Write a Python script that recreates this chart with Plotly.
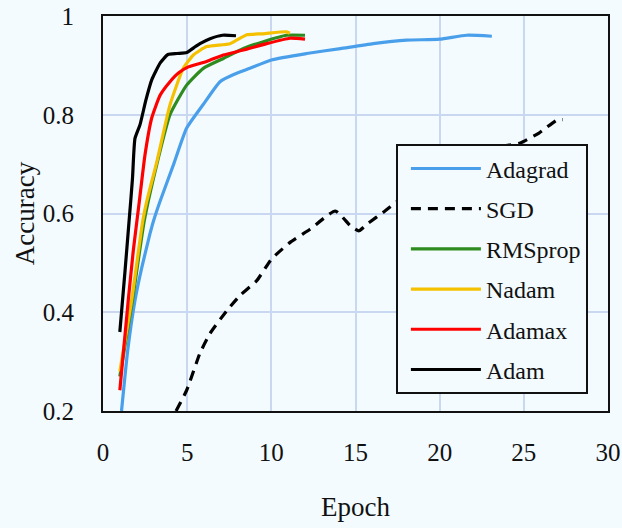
import plotly.graph_objects as go

# ---- data ----
names = ["Adagrad", "SGD", "RMSprop", "Nadam", "Adamax", "Adam"]
colors = ["#4A9FEA", "#000000", "#2E8B1E", "#F5C000", "#FF0000", "#000000"]

adagrad_x = [1.1, 1.47, 1.9, 2.3, 2.79, 3.0, 3.39, 4.2, 4.97, 6.0, 6.95, 7.8, 8.73, 10.0, 12.1, 14.1, 16.06, 18.04, 20.0, 21.6, 23.1]
adagrad_y = [0.2, 0.323, 0.424, 0.49, 0.559, 0.585, 0.625, 0.70, 0.773, 0.823, 0.867, 0.882, 0.894, 0.911, 0.924, 0.934, 0.944, 0.951, 0.953, 0.961, 0.959]

sgd_x = [4.34, 4.97, 5.76, 6.36, 7.35, 8.14, 9.13, 10.02, 11.1, 12.3, 13.8, 14.7, 15.2, 15.7, 16.75, 17.5, 19.0, 20.5, 22.0, 23.8, 24.8, 25.9, 27.0, 27.3]
sgd_y = [0.2, 0.242, 0.317, 0.357, 0.403, 0.434, 0.464, 0.508, 0.541, 0.568, 0.605, 0.575, 0.565, 0.579, 0.605, 0.625, 0.655, 0.68, 0.705, 0.736, 0.743, 0.763, 0.79, 0.79]

rmsprop_x = [1.0, 1.75, 2.45, 3.2, 3.98, 4.97, 5.96, 7.15, 8.34, 9.53, 10.9, 12.0]
rmsprop_y = [0.27, 0.424, 0.585, 0.70, 0.80, 0.86, 0.894, 0.914, 0.934, 0.948, 0.961, 0.961]

nadam_x = [1.0, 1.7, 2.36, 2.6, 3.2, 3.98, 4.77, 5.37, 6.16, 7.55, 8.54, 9.5, 10.9, 11.1]
nadam_y = [0.28, 0.424, 0.585, 0.625, 0.705, 0.82, 0.894, 0.921, 0.938, 0.944, 0.962, 0.964, 0.968, 0.965]

adamax_x = [1.0, 1.5, 1.8, 2.16, 2.5, 2.89, 3.4, 3.98, 4.5, 5.07, 6.16, 7.15, 8.34, 9.72, 11.1, 12.0]
adamax_y = [0.242, 0.424, 0.525, 0.625, 0.72, 0.793, 0.84, 0.867, 0.885, 0.897, 0.908, 0.921, 0.931, 0.944, 0.955, 0.953]

adam_x = [1.0, 1.3, 1.55, 1.75, 1.9, 2.2, 2.55, 2.9, 3.4, 3.86, 4.4, 4.97, 5.4, 5.76, 6.36, 7.1, 7.9]
adam_y = [0.36, 0.48, 0.585, 0.67, 0.752, 0.78, 0.83, 0.871, 0.905, 0.922, 0.924, 0.926, 0.936, 0.944, 0.954, 0.961, 0.960]

x_ticks = [0, 5, 10, 15, 20, 25, 30]
x_tick_labels = ["0", "5", "10", "15", "20", "25", "30"]
y_ticks = [0.2, 0.4, 0.6, 0.8, 1.0]
y_tick_labels = ["0.2", "0.4", "0.6", "0.8", "1"]

series = [
    (adagrad_x, adagrad_y),
    (sgd_x, sgd_y),
    (rmsprop_x, rmsprop_y),
    (nadam_x, nadam_y),
    (adamax_x, adamax_y),
    (adam_x, adam_y),
]

BG = "#F3FBFF"
FONT = "Times New Roman, Liberation Serif, DejaVu Serif, serif"
INK = "#111111"

fig = go.Figure()
for i, (name, color, (xs, ys)) in enumerate(zip(names, colors, series)):
    fig.add_trace(go.Scatter(
        x=xs, y=ys, mode="lines", name=name,
        legendgroup=f"g{i}",
        line=dict(color=color, width=3.2, shape="spline", smoothing=0.5,
                  dash="10px,7px" if name == "SGD" else "solid"),
    ))

fig.update_layout(
    width=622, height=528,
    margin=dict(l=103, r=14, t=16, b=117, autoexpand=False),
    paper_bgcolor=BG, plot_bgcolor=BG,
    font=dict(family=FONT, size=25, color=INK),
    showlegend=True,
    legend=dict(
        x=0.58, y=0.675, xanchor="left", yanchor="top",
        bgcolor=BG, bordercolor=INK, borderwidth=2,
        font=dict(family=FONT, size=24, color=INK),
        tracegroupgap=6, itemwidth=70, indentation=8,
    ),
    xaxis=dict(
        range=[0, 30], tickvals=x_ticks, ticktext=x_tick_labels,
        tickfont=dict(family=FONT, size=25, color=INK),
        showgrid=True, gridcolor="#C9D8F0", gridwidth=1.5,
        showline=True, linecolor=INK, linewidth=2, mirror=True,
        zeroline=False, ticks="", ticklabelstandoff=18, automargin=False,
        title=dict(text="Epoch", standoff=32, font=dict(family=FONT, size=27, color=INK)),
    ),
    yaxis=dict(
        range=[0.2, 1.0], tickvals=y_ticks, ticktext=y_tick_labels,
        tickfont=dict(family=FONT, size=25, color=INK),
        showgrid=True, gridcolor="#C9D8F0", gridwidth=1.5,
        showline=True, linecolor=INK, linewidth=2, mirror=True,
        zeroline=False, ticks="", ticklabelstandoff=22, automargin=False,
        title=dict(text="Accuracy", standoff=0, font=dict(family=FONT, size=27, color=INK)),
    ),
)

fig.write_html(
    "out.html",
    config={"displayModeBar": False},
    post_script="document.body.style.margin='0px';document.body.style.background='%s';" % BG,
)
